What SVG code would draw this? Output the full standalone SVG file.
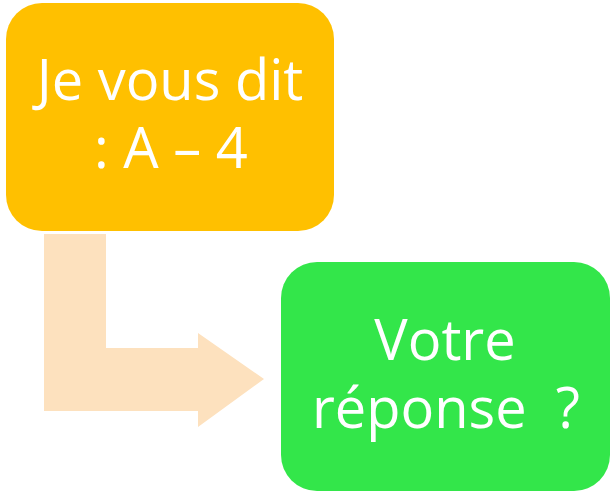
<svg xmlns="http://www.w3.org/2000/svg" width="615" height="494" viewBox="0 0 615 494">
<style>
.lbl{font-family:"Open Sans","Liberation Sans",sans-serif;font-size:56px;fill:#FFFFFF;text-anchor:middle}
</style>
<rect width="615" height="494" fill="#FFFFFF"/>
<g id="connectors">
<path d="M44,234 H106 V348 H198 V333 L264,379 L198,427 V411 H44 Z" fill="#FDE1BE"/>
</g>
<g id="node-a">
<rect x="6" y="3" width="328" height="228" rx="36" ry="36" fill="#FFC000"/>
<text class="lbl" x="170" y="100">Je vous dit</text>
<text class="lbl" x="171" y="168">: A – 4</text>
</g>
<g id="node-b">
<rect x="281" y="262" width="329" height="229" rx="36" ry="36" fill="#33E64A"/>
<text class="lbl" x="445" y="360">Votre</text>
<text class="lbl" x="446" y="428" xml:space="preserve">réponse  ?</text>
</g>
</svg>
